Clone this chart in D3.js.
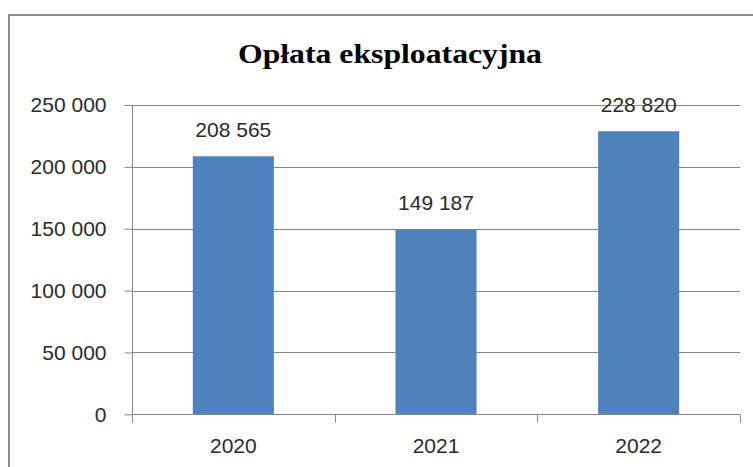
<!DOCTYPE html>
<html>
<head>
<meta charset="utf-8">
<script src="https://cdn.jsdelivr.net/npm/d3@7"></script>
<style>
	body { margin: 0; background: #fff; }
	svg { display: block; }
</style>
</head>
<body>
<svg id="chart" width="753" height="467"></svg>
<script>
// data
const years = ["2020", "2021", "2022"];
const values = [208565, 149187, 228820];
const yTicks = [0, 50000, 100000, 150000, 200000, 250000];
const title = "Opłata eksploatacyjna";

const svg = d3.select("#chart"),
	plotLeft = 132, plotRight = 740, plotTop = 105, plotBottom = 414.3,
	barColor = "#4f81bd",
	gridColor = "#868686",
	textColor = "#2a2a2a",
	numFont = "'Liberation Sans', Arial, sans-serif";

// spaces as thousands separator
const fmt = d => d3.format(",")(d).replace(/,/g, " ");

const x = d3.scaleBand()
	.domain(years)
	.range([plotLeft, plotRight])
	.paddingInner(0.6)
	.paddingOuter(0.3);

const y = d3.scaleLinear()
	.domain([0, 250000])
	.range([plotBottom, plotTop]);

// outer frame
svg.append("path")
	.attr("d", "M9,467 V15 H753")
	.attr("fill", "none")
	.attr("stroke", "#8c8c8c")
	.attr("stroke-width", 2);

// title
svg.append("text")
	.attr("x", 390)
	.attr("y", 63)
	.attr("text-anchor", "middle")
	.attr("font-family", "'Liberation Serif', 'DejaVu Serif', serif")
	.attr("font-weight", "bold")
	.attr("font-size", 27)
	.attr("textLength", 304)
	.attr("lengthAdjust", "spacingAndGlyphs")
	.attr("fill", "#000")
	.text(title);

// horizontal gridlines
svg.append("g")
	.selectAll("line")
	.data(yTicks.filter(d => d > 0))
	.join("line")
	.attr("x1", plotLeft)
	.attr("x2", plotRight)
	.attr("y1", d => Math.round(y(d)) + 0.5)
	.attr("y2", d => Math.round(y(d)) + 0.5)
	.attr("stroke", gridColor)
	.attr("stroke-width", 1);

// y axis
const yAxis = svg.append("g")
	.attr("transform", `translate(${plotLeft + 0.5},0)`)
	.call(d3.axisLeft(y).tickValues(yTicks).tickFormat(fmt).tickSize(8).tickPadding(18));

yAxis.select(".domain").attr("stroke", gridColor).attr("d", `M0,${plotTop}V${plotBottom + 0.5}`);
yAxis.selectAll(".tick line").attr("stroke", gridColor);
yAxis.selectAll(".tick text")
	.attr("font-family", numFont)
	.attr("font-size", 21)
	.attr("fill", textColor);

// bars
svg.append("g")
	.selectAll("rect")
	.data(values)
	.join("rect")
	.attr("x", (d, i) => x(years[i]))
	.attr("y", d => y(d))
	.attr("width", x.bandwidth())
	.attr("height", d => plotBottom - y(d))
	.attr("fill", barColor);

// x axis, ticks sit between categories
const xAxis = svg.append("g")
	.attr("transform", `translate(0,${Math.round(plotBottom) + 0.5})`);

xAxis.append("line")
	.attr("x1", plotLeft)
	.attr("x2", plotRight)
	.attr("stroke", gridColor);

xAxis.selectAll(".sep")
	.data(d3.range(years.length + 1))
	.join("line")
	.attr("class", "sep")
	.attr("x1", i => Math.round(plotLeft + i * x.step()) + 0.5)
	.attr("x2", i => Math.round(plotLeft + i * x.step()) + 0.5)
	.attr("y1", 0)
	.attr("y2", 8)
	.attr("stroke", gridColor);

xAxis.selectAll(".lbl")
	.data(years)
	.join("text")
	.attr("class", "lbl")
	.attr("x", d => x(d) + x.bandwidth() / 2)
	.attr("y", 38)
	.attr("text-anchor", "middle")
	.attr("font-family", numFont)
	.attr("font-size", 21)
	.attr("fill", textColor)
	.text(d => d);

// value labels above bars
svg.append("g")
	.selectAll("text")
	.data(values)
	.join("text")
	.attr("x", (d, i) => x(years[i]) + x.bandwidth() / 2)
	.attr("y", d => y(d) - 19.5)
	.attr("text-anchor", "middle")
	.attr("font-family", numFont)
	.attr("font-size", 21)
	.attr("fill", textColor)
	.text(fmt);
</script>
</body>
</html>
